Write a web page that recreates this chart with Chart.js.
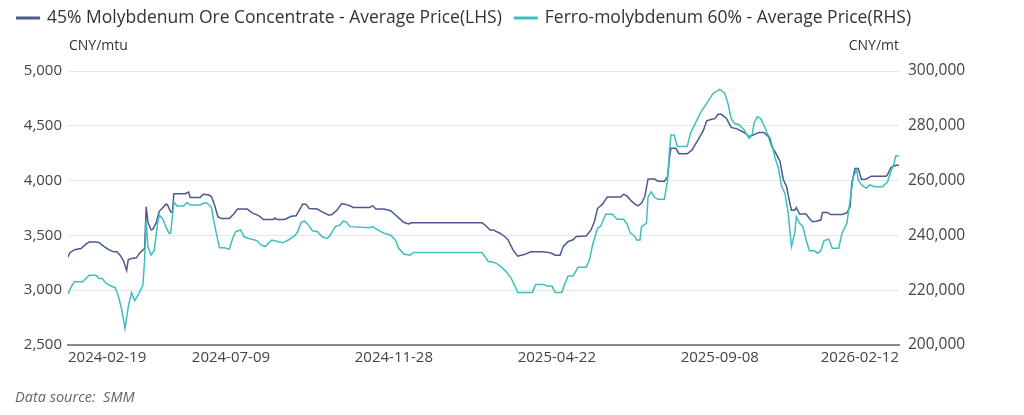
<!DOCTYPE html>
<html>
<head>
<meta charset="utf-8">
<script src="https://cdn.jsdelivr.net/npm/chart.js@4.4.0/dist/chart.umd.min.js"></script>
<style>
  html, body { margin: 0; padding: 0; background: #fff; }
  canvas { display: block; }
</style>
</head>
<body>
<canvas id="priceChart" width="1024" height="415"></canvas>
<script>
// trading-day index -> price
const oreDay = [0, 1, 4, 8, 11, 13, 17, 19, 22, 25, 28, 30, 32, 34, 36, 37, 39, 42, 44, 47,
  48, 49, 51, 52, 54, 56, 58, 60, 61, 63, 64, 65, 72, 74, 75, 81, 83, 86, 88, 90,
  92, 94, 99, 102, 104, 110, 113, 117, 120, 126, 127, 128, 133, 137, 140, 142, 144, 146, 148, 153,
  156, 160, 162, 165, 168, 170, 173, 175, 185, 187, 189, 194, 198, 200, 203, 206, 209, 211, 254, 256,
  259, 261, 265, 268, 270, 273, 276, 280, 284, 291, 295, 297, 299, 302, 304, 307, 310, 312, 318, 321,
  323, 325, 328, 331, 339, 341, 343, 346, 348, 350, 352, 354, 356, 360, 362, 366, 368, 369, 370, 373,
  375, 380, 383, 386, 388, 390, 392, 395, 397, 399, 401, 404, 407, 411, 416, 418, 421, 424, 427, 430,
  432, 435, 437, 439, 441, 443, 444, 446, 447, 449, 453, 455, 457, 459, 462, 463, 466, 468, 475, 478,
  480, 481, 483, 485, 487, 490, 493, 502, 503, 505, 508, 510];
const orePrice = [3300, 3340, 3370, 3380, 3420, 3440, 3440, 3435, 3400, 3370, 3350, 3350, 3320, 3270, 3180, 3280, 3290, 3295, 3340, 3380,
  3760, 3625, 3550, 3555, 3610, 3720, 3750, 3785, 3780, 3715, 3710, 3880, 3880, 3895, 3845, 3845, 3875, 3870, 3855, 3775,
  3670, 3655, 3655, 3700, 3740, 3740, 3705, 3680, 3645, 3645, 3660, 3645, 3645, 3675, 3680, 3730, 3785, 3785, 3745, 3740,
  3715, 3685, 3690, 3730, 3790, 3785, 3770, 3755, 3755, 3770, 3740, 3740, 3725, 3700, 3660, 3620, 3605, 3615, 3615, 3595,
  3550, 3550, 3520, 3490, 3460, 3370, 3310, 3325, 3350, 3350, 3345, 3335, 3320, 3320, 3400, 3445, 3460, 3490, 3495, 3550,
  3625, 3745, 3785, 3850, 3850, 3875, 3860, 3810, 3785, 3770, 3795, 3855, 4015, 4015, 3995, 3995, 4035, 4190, 4295, 4295,
  4245, 4245, 4280, 4355, 4405, 4460, 4545, 4560, 4565, 4605, 4605, 4570, 4485, 4470, 4430, 4400, 4420, 4440, 4440, 4400,
  4310, 4235, 4175, 4010, 3945, 3795, 3730, 3730, 3755, 3695, 3695, 3655, 3625, 3630, 3640, 3710, 3710, 3690, 3690, 3705,
  3760, 3975, 4110, 4110, 4010, 4015, 4040, 4040, 4055, 4120, 4140, 4140];

const feDay = [0, 2, 4, 9, 11, 13, 17, 19, 21, 23, 26, 29, 31, 33, 35, 37, 39, 40, 41, 43,
  46, 47, 48, 49, 51, 53, 55, 56, 58, 60, 62, 63, 64, 65, 67, 71, 73, 75, 81, 83,
  85, 88, 89, 91, 93, 96, 99, 101, 103, 106, 108, 111, 116, 118, 121, 125, 129, 132, 136, 139,
  141, 143, 145, 147, 150, 153, 156, 159, 161, 164, 167, 169, 171, 173, 185, 187, 190, 194, 198, 201,
  203, 206, 210, 212, 254, 256, 258, 260, 263, 266, 269, 272, 274, 276, 285, 287, 292, 294, 297, 299,
  303, 305, 307, 310, 313, 318, 320, 322, 325, 327, 330, 334, 337, 341, 343, 345, 348, 349, 351, 352,
  355, 356, 358, 360, 362, 366, 368, 369, 370, 372, 374, 380, 382, 385, 388, 392, 396, 400, 403, 405,
  407, 409, 412, 415, 418, 420, 421, 423, 425, 428, 429, 431, 433, 434, 436, 438, 440, 442, 444, 446,
  447, 449, 451, 453, 455, 458, 460, 462, 464, 467, 469, 473, 475, 478, 480, 482, 484, 485, 487, 490,
  492, 495, 500, 503, 505, 507, 508, 510];
const fePrice = [218600, 221300, 223100, 223100, 224300, 225500, 225500, 224300, 224300, 222700, 221600, 220900, 217600, 212800, 206100, 214000, 219100, 217600, 216200, 218200,
  221900, 231000, 245600, 235900, 232800, 234700, 244400, 247400, 246200, 243200, 240800, 240700, 246800, 252100, 250700, 250700, 252000, 251100, 251100, 251700,
  251900, 250300, 246800, 240800, 235500, 235500, 234900, 238900, 241400, 242000, 239500, 238900, 238100, 236700, 235900, 238300, 237700, 237300, 238600, 239800,
  241400, 244700, 245300, 244200, 241700, 241400, 239500, 238900, 240100, 243200, 243800, 245300, 244800, 243200, 242800, 243200, 242000, 240800, 240100, 238300,
  235300, 233200, 232800, 233800, 233800, 232200, 230400, 230400, 229800, 228400, 226700, 224300, 221900, 219200, 219200, 222100, 222100, 221500, 221500, 219200,
  219200, 222500, 225200, 225200, 228400, 228400, 231000, 236700, 242600, 243400, 247700, 247700, 245900, 245900, 244300, 241000, 239500, 238300, 238300, 243200,
  244400, 254100, 255900, 253900, 253200, 253200, 260200, 270000, 276600, 276600, 272400, 272400, 277300, 280900, 284600, 288200, 291900, 293300, 291900, 288200,
  282700, 280900, 280300, 278500, 275400, 277000, 280900, 283300, 282700, 279100, 277300, 275400, 270800, 268100, 264500, 257800, 255300, 248100, 235900, 240800,
  246800, 244400, 243200, 238300, 234400, 234400, 233500, 234400, 238100, 238600, 235300, 235300, 240800, 244400, 252900, 261400, 263900, 260200, 258400, 257200,
  258400, 257800, 257800, 259600, 263300, 266300, 269000, 269000];

const tickDay = [0, 100, 200, 300, 400, 500];
const tickLabels = ['2024-02-19', '2024-07-09', '2024-11-28', '2025-04-22', '2025-09-08', '2026-02-12'];
const seriesNames = ['45% Molybdenum Ore Concentrate - Average Price(LHS)', 'Ferro-molybdenum 60% - Average Price(RHS)'];
const seriesColors = ['#4b5990', '#3fbec0'];

Chart.defaults.font.family = "'Open Sans', sans-serif";

const toPoints = (days, prices) => days.map((d, i) => ({ x: d, y: prices[i] }));

// legend, unit labels, date labels and source line
const extras = {
  id: 'extras',
  afterDraw(chart) {
    const { ctx, chartArea, scales } = chart;
    ctx.save();
    ctx.textBaseline = 'middle';
    ctx.font = "17.5px 'Open Sans'";
    let x = 16;
    seriesNames.forEach((name, i) => {
      ctx.strokeStyle = seriesColors[i];
      ctx.lineWidth = 3;
      ctx.beginPath();
      ctx.moveTo(x, 18);
      ctx.lineTo(x + 24, 18);
      ctx.stroke();
      ctx.fillStyle = '#333';
      ctx.textAlign = 'left';
      ctx.fillText(name, x + 31, 18);
      x += 31 + ctx.measureText(name).width + 12;
    });

    ctx.font = "14px 'Open Sans'";
    ctx.fillStyle = '#333';
    ctx.textAlign = 'left';
    ctx.fillText('CNY/mtu', chartArea.left + 1, 46);
    ctx.textAlign = 'right';
    ctx.fillText('CNY/mt', chartArea.right, 46);

    ctx.font = "15px 'Open Sans'";
    ctx.fillStyle = '#444';
    ctx.textAlign = 'left';
    tickDay.forEach((d, i) => {
      const w = ctx.measureText(tickLabels[i]).width;
      let lx = scales.x.getPixelForValue(d) - w / 2;
      lx = Math.min(Math.max(lx, chartArea.left), chartArea.right - w);
      ctx.fillText(tickLabels[i], lx, 358);
    });

    ctx.font = "italic 14.5px 'Open Sans'";
    ctx.fillStyle = '#666';
    ctx.fillText('Data source:  SMM', 15, 398);
    ctx.restore();
  }
};

new Chart(document.getElementById('priceChart'), {
  type: 'line',
  data: {
    datasets: [
      {
        label: seriesNames[0],
        data: toPoints(oreDay, orePrice),
        yAxisID: 'yL',
        borderColor: seriesColors[0],
        borderWidth: 1.5,
        pointRadius: 0,
        tension: 0,
        order: 1
      },
      {
        label: seriesNames[1],
        data: toPoints(feDay, fePrice),
        yAxisID: 'yR',
        borderColor: seriesColors[1],
        borderWidth: 1.5,
        pointRadius: 0,
        tension: 0,
        order: 0
      }
    ]
  },
  options: {
    responsive: false,
    animation: false,
    layout: { padding: { top: 71, bottom: 70, left: 0, right: 0 } },
    plugins: {
      legend: { display: false },
      tooltip: { enabled: false }
    },
    scales: {
      x: {
        type: 'linear',
        min: 0,
        max: 510,
        ticks: { display: false },
        grid: { display: false },
        border: { display: true, color: '#8a8a8a', width: 2 },
        afterFit: s => { s.height = 0; }
      },
      yL: {
        type: 'linear',
        position: 'left',
        min: 2500,
        max: 5000,
        ticks: {
          stepSize: 500,
          padding: 6,
          color: '#444',
          font: { size: 15 },
          callback: v => v.toLocaleString('en-US')
        },
        grid: {
          drawTicks: false,
          color: c => (c.tick && c.tick.value === 2500 ? 'rgba(0,0,0,0)' : '#e6e6e6')
        },
        border: { display: false },
        afterFit: s => { s.width = 68; }
      },
      yR: {
        type: 'linear',
        position: 'right',
        min: 200000,
        max: 300000,
        ticks: {
          stepSize: 20000,
          padding: 9,
          color: '#444',
          font: { size: 15.5 },
          callback: v => v.toLocaleString('en-US')
        },
        grid: { display: false, drawTicks: false },
        border: { display: false },
        afterFit: s => { s.width = 125; }
      }
    }
  },
  plugins: [extras]
});
</script>
</body>
</html>
